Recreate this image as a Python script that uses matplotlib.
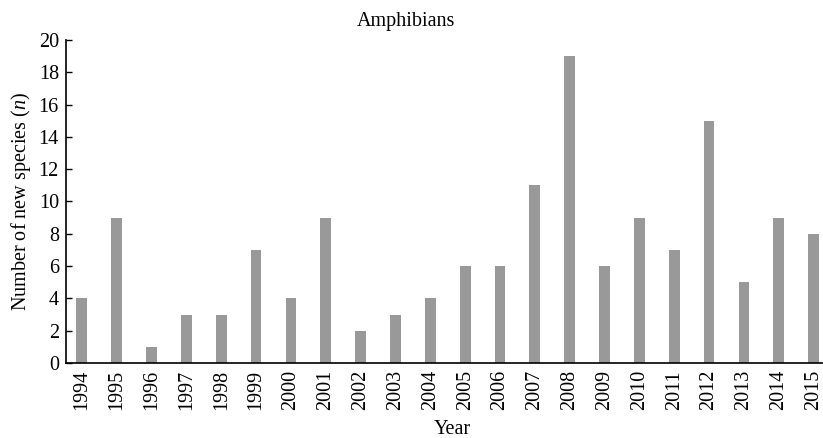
import numpy as np
import matplotlib
matplotlib.use('Agg')
import matplotlib.pyplot as plt

plt.rcParams['font.family'] = ['Liberation Serif', 'DejaVu Serif']
plt.rcParams['mathtext.fontset'] = 'custom'
plt.rcParams['mathtext.it'] = 'Liberation Serif:italic'
plt.rcParams['mathtext.rm'] = 'Liberation Serif'

# Data
years = [str(y) for y in range(1994, 2016)]
new_species = [4, 9, 1, 3, 3, 7, 4, 9, 2, 3, 4, 6, 6, 11, 19, 6, 9, 7, 15, 5, 9, 8]

fs = 14.5

fig = plt.figure(figsize=(8.23, 4.38), dpi=100)
ax = fig.add_axes([0.080, 0.171, 0.920, 0.738])

x = np.arange(len(years))
ax.bar(x, new_species, width=0.31, color='#999999')

ax.set_xlim(-0.46, len(years) - 0.73)
ax.set_ylim(0, 20)
ax.set_yticks(range(0, 21, 2))
ax.set_xticks(x)
ax.set_xticklabels(years, rotation=90)
ax.tick_params(axis='y', direction='in', length=4, labelsize=fs, width=1, pad=5)
ax.tick_params(axis='x', length=0, labelsize=fs, pad=5)

for s in ['top', 'right']:
    ax.spines[s].set_visible(False)
ax.spines['left'].set_linewidth(1.2)
ax.spines['bottom'].set_linewidth(1.2)

ax.set_title('Amphibians', fontsize=fs, pad=10, x=0.449)
ax.set_xlabel('Year', fontsize=fs, labelpad=7, x=0.51)
ax.set_ylabel('Number of new species ($n$)', fontsize=fs, labelpad=4)

fig.savefig('out.png', dpi=100)
